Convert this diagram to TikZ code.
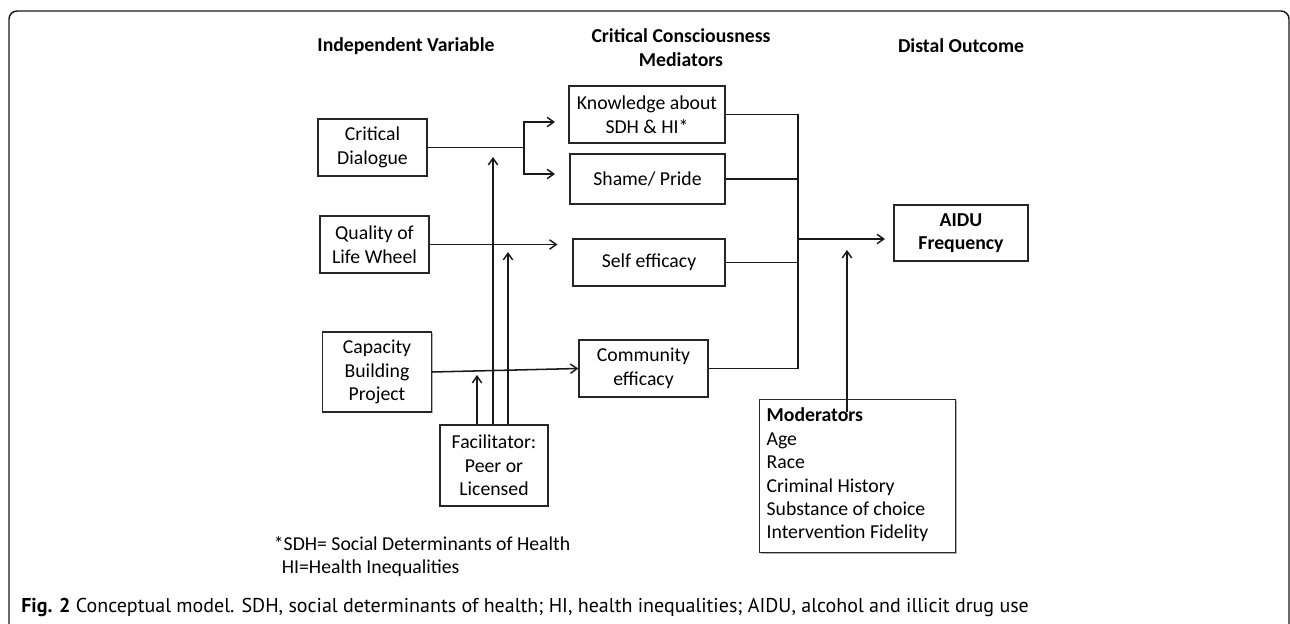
\documentclass[tikz,border=0pt]{standalone}
\usepackage{fontspec}
\setmainfont{Carlito}
\newfontfamily\capfont{PT Sans}
\usetikzlibrary{arrows.meta,shadows,calc}
\newcommand\bodyfont{\fontsize{14.8pt}{17.6pt}\selectfont}
\begin{document}
\begin{tikzpicture}[x=0.75pt,y=-0.75pt,
  box/.style={draw=black!85,line width=0.95pt,fill=white,inner sep=0pt,align=center,font=\bodyfont,
    drop shadow={shadow xshift=1pt,shadow yshift=-1pt,opacity=0.3,fill=black}},
  hdr/.style={font=\bodyfont\bfseries,align=center,inner sep=0pt},
  conn/.style={draw=black!90,line width=1.15pt},
  arr/.style={conn,-{Straight Barb[length=5pt,width=7pt,line width=1.1pt]}},
  note/.style={font=\bodyfont,align=left,inner sep=0pt,anchor=west}]
\useasboundingbox (0,0) rectangle (1290,624);
\begin{scope}
\clip (0,0) rectangle (1290,624);
\draw[line width=1.1pt,black!90,rounded corners=6pt] (9,11) rectangle (1289,720);
\end{scope}

% headers
\node[hdr] (h1) at (406,46) {Independent Variable};
\node[hdr] (h2) at (681,47.5) {Critical Consciousness\\Mediators};
\node[hdr] (h3) at (961,46) {Distal Outcome};

% independent variables
\node[box,minimum width=81.75pt,minimum height=42.75pt] (cd) at (372.5,147.5) {Critical\\Dialogue};
\node[box,minimum width=81.75pt,minimum height=42.75pt] (qol) at (374.5,244.5) {Quality of\\Life Wheel};
\node[box,minimum width=81.4pt,minimum height=60pt] (cbp) at (377,372) {Capacity\\Building\\Project};
\node[box,minimum width=81pt,minimum height=60.75pt] (fac) at (494,465.5) {Facilitator:\\Peer or\\Licensed};

% mediators
\node[box,minimum width=117pt,minimum height=42.75pt] (kn) at (647,114.5) {Knowledge about\\SDH \& HI*};
\node[box,minimum width=116.25pt,minimum height=37.5pt] (sp) at (647.5,179) {Shame/ Pride};
\node[box,minimum width=114pt,minimum height=35.25pt] (se) at (649,262.5) {Self efficacy};
\node[box,minimum width=96.75pt,minimum height=42.75pt] (ce) at (643.5,368.5) {Community\\efficacy};

% outcome
\node[box,minimum width=100.5pt,minimum height=42pt,font=\bodyfont\bfseries] (aidu) at (961,233) {AIDU\\Frequency};

% moderators
\node[box,anchor=north west,align=left] (mod) at (759,399) {\begin{minipage}[t][114.75pt][t]{147pt}\leftskip=5.25pt\rule{0pt}{16.5pt}\textbf{Moderators}\\Age\\Race\\Criminal History\\Substance of choice\\Intervention Fidelity\end{minipage}};

% notes
\node[note,anchor=north west] (fn) at (273.6,536) {*SDH= Social Determinants of Health\\\hspace*{6pt}HI=Health Inequalities};
\node[inner sep=0pt,anchor=west,font=\capfont\fontsize{15pt}{18pt}\selectfont] (cap) at (21,607) {\textbf{Fig. 2} Conceptual model. SDH, social determinants of health; HI, health inequalities; AIDU, alcohol and illicit drug use};

% coordinates
\coordinate (brx) at (524,147);
\coordinate (kntip) at (555,122);
\coordinate (sptip) at (555,174);
\coordinate (qoltip) at (557.5,244.5);
\coordinate (f1) at (477,375);
\coordinate (f2) at (493,157);
\coordinate (f3) at (508,252);
\coordinate (bus) at (798,239);
\coordinate (aidutip) at (885,239);
\coordinate (modtip) at (847,250);
\coordinate (modstart) at (847,412);

% connectors
\draw[conn] (cd.east) -- (cd.east -| brx);
\draw[arr] (cd.east -| brx) -- (brx |- kntip) -- (kntip);
\draw[arr] (cd.east -| brx) -- (brx |- sptip) -- (sptip);
\draw[arr] (qol.east) -- (qoltip);
\draw[arr] (cbp.east) -- (ce.west);
\draw[arr] (fac.north -| f1) -- (f1);
\draw[arr] (fac.north -| f2) -- (f2);
\draw[arr] (fac.north -| f3) -- (f3);

\draw[conn] (kn.east) -| (bus |- ce.east) -- (ce.east);
\draw[conn] (sp.east) -- (sp.east -| bus);
\draw[conn] (se.east) -- (se.east -| bus);
\draw[arr] (bus) -- (aidutip);
\draw[arr] (modstart) -- (modtip);
\end{tikzpicture}
\end{document}
